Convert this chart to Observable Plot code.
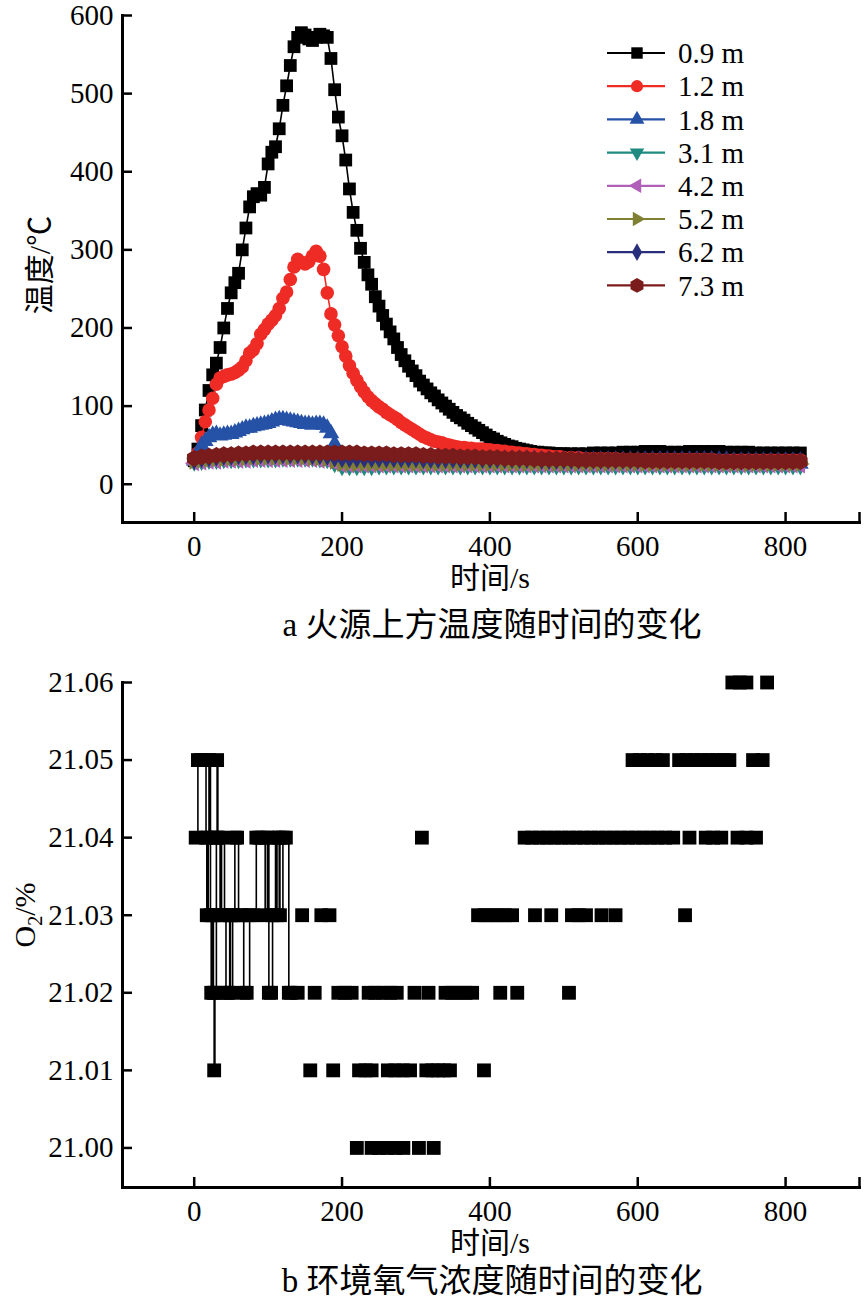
<!DOCTYPE html>
<html><head><meta charset="utf-8">
<script src="https://cdn.jsdelivr.net/npm/d3@7"></script>
<script src="https://cdn.jsdelivr.net/npm/@observablehq/plot@0.6"></script>
<style>
body{margin:0;background:#fff;}
#page{position:relative;width:865px;height:1303px;font-family:"Liberation Serif","Noto Sans CJK SC",serif;color:#000;overflow:hidden;}
.abs{position:absolute;white-space:nowrap;transform:translate(-50%,-50%);line-height:1;}
.rot{transform:translate(-50%,-50%) rotate(-90deg);}
</style></head><body><div id="page">
<div id="chartA" style="position:absolute;left:0;top:0"></div>
<div id="chartB" style="position:absolute;left:0;top:650px"></div>
<div id="legendA" style="position:absolute;left:600px;top:30px"></div>
<div class="abs rot" style="left:40px;top:265px;font-size:30px">温度/℃</div>
<div class="abs" style="left:490px;top:578px;font-size:30px">时间/s</div>
<div class="abs" style="left:492px;top:625px;font-size:33px">a 火源上方温度随时间的变化</div>
<div class="abs rot" style="left:27px;top:915px;font-size:30px">O<sub style="font-size:20px">2</sub>/%</div>
<div class="abs" style="left:490px;top:1243px;font-size:30px">时间/s</div>
<div class="abs" style="left:492px;top:1281px;font-size:33px">b 环境氧气浓度随时间的变化</div>
</div>
<script>
// ---------------- Chart a data ----------------
const seriesNames = ["0.9 m","1.2 m","1.8 m","3.1 m","4.2 m","5.2 m","6.2 m","7.3 m"];
const seriesColors = ["#000000","#ef2b26","#2552a6","#1e8a80","#b060b8","#808034","#2a2f7c","#7a1c1c"];

const tFine = [0,5,10,15,20,25,30,35,40,45,50,55,60,65,70,75,80,85,90,95,100,105,110,115,120,125,130,135,140,145,150,155,160,165,170,175,180,185,190,195,200,205,210,215,220,225,230,235,240,245,250,255,260,265,270,275,280,285,290,295,300,305,310,315,320,325,330,335,340,345,350,355,360,365,370,375,380,385,390,395,400,405,410,415,420,425,430,435,440,445,450,455,460,465,470,475,480,485,490,495,500,510,520,530,540,550,560,570,580,590,600,610,620,630,640,650,660,670,680,690,700,710,720,730,740,750,760,770,780,790,800,810,820];
const tCoarse = [0,10,20,30,40,50,60,70,80,90,100,110,120,130,140,150,160,170,180,190,200,210,220,230,240,250,260,270,280,290,300,310,320,330,340,350,360,370,380,390,400,410,420,430,440,450,460,470,480,490,500,510,520,530,540,550,560,570,580,590,600,610,620,630,640,650,660,670,680,690,700,710,720,730,740,750,760,770,780,790,800,810,820];

const temp09 = [30,45,75,95,120,140,155,175,200,225,
245,258,270,300,328,355,368,372,370,380,
410,425,432,455,485,510,536,560,572,578,
575,570,568,572,576,574,572,545,505,470,
446,415,378,348,325,302,284,268,256,240,
228,216,205,195,186,175,166,158,151,145,
139,132,127,122,117,113,108,104,100,96,
92,88,85,82,78,75,72,69,66,63,
60,58,55,53,51,49,48,46,45,44,
43,42,41,41,40,40,40,39,39,39,
39,
39,39,39,40,40,40,40,41,41,41,42,42,42,41,41,41,42,42,42,42,42,41,41,41,41,40,40,40,40,40,40,40];

const temp12 = [30,40,60,80,95,110,128,136,138,140,
141,143,146,150,158,168,172,180,192,198,
205,210,216,225,238,246,262,278,288,284,
282,285,292,298,292,275,245,218,204,190,
176,164,152,142,133,125,118,112,107,103,
99,96,92,89,86,83,79,76,73,70,
67,64,61,59,57,55,54,53,51,50,
49,48,47,47,46,46,45,45,45,44,
44,43,43,42,42,41,41,40,40,39,
39,38,38,37,37,36,36,35,35,35,
34,
34,34,33,33,33,33,33,32,32,32,32,32,32,32,32,32,32,32,32,32,31,31,31,31,31,31,31,31,31,31,31,31];

const temp18 = [30,40,50,55,60,63,64,62,63,64,
64,66,68,70,72,72,74,75,76,77,
78,80,82,83,83,82,81,80,79,78,
77,77,76,77,77,76,72,65,52,30,
26,26,26,25,25,25,25,25,25,25,
25,25,25,25,25,25,25,25,25,25,
25,25,26,26,26,26,26,26,26,26,
26,26,26,26,26,26,26,26,26,26,
26,26,26,26,26,26,26,26,26,26,
26,26,26,26,26,26,26,26,26,26,
26,
26,26,26,26,26,26,26,26,26,26,26,26,26,26,26,26,26,26,26,26,26,26,26,26,26,26,26,26,26,26,26,26];

const temp31 = [28,29,30,30,31,31,31,32,32,32,32,32,33,33,33,33,33,32,31,26,22,
22,22,22,22,23,23,23,23,23,23,23,23,23,23,23,23,23,23,23,23,23,23,23,23,23,23,23,23,23,23,23,23,23,23,23,23,23,23,23,23,23,23,23,23,23,23,23,23,23,23,23,23,23,23,23,23,23,23,23,23,23,23];
const temp42 = [27,28,29,29,30,30,30,30,31,31,31,31,31,31,31,31,31,30,30,27,24,
24,24,24,24,24,24,24,24,24,24,24,24,24,24,24,24,24,24,24,24,24,24,24,24,24,24,24,24,24,24,24,24,24,24,24,24,24,24,24,24,24,24,24,24,24,24,24,24,24,24,24,24,24,24,24,24,24,24,24,24,24,24];
const temp52 = [29,30,31,32,32,33,33,33,34,34,34,34,34,34,34,34,33,33,32,29,26,
26,26,26,26,26,26,26,26,26,26,26,26,26,26,26,26,26,26,26,26,26,26,26,26,26,26,26,26,26,26,26,26,26,26,26,26,26,26,26,26,26,26,26,26,26,26,26,26,26,26,26,26,26,26,26,26,26,26,26,26,26,26];
const temp62 = [31,33,34,35,36,36,37,37,37,38,38,38,38,38,38,38,37,37,36,34,33,
33,33,33,33,33,33,33,33,33,33,32,32,32,32,32,32,32,32,32,32,32,32,32,32,32,32,31,31,31,31,31,31,31,31,31,31,31,31,31,31,31,31,31,31,31,31,31,31,31,31,31,31,30,30,30,30,30,30,30,30,30,30];
const temp73 = [33,35,36,37,38,38,39,39,40,40,
40,40,40,40,40,40,40,40,40,40,
40,40,40,39,39,39,39,38,38,38,
38,37,37,36,36,36,35,35,35,34,
34,34,33,33,33,33,32,32,32,32,
32,32,31,31,31,31,31,31,31,31,
31,30,30,30,30,30,30,30,30,30,
30,29,29,29,29,29,29,29,29,29,
29,29,29];

const xTicks = [0,200,400,600,800];
const xTickMarks = [0,200,400,600,800,900];
const yTicksA = [0,100,200,300,400,500,600];

// ---------------- Chart b data ----------------
const o2EarlyT = [2,5,9,13,16,17,19,20,22,23,25,26,27,28,30,31,32,35,37,41,43,46,48,49,52,55,58,60,64,67,71,75,79,84,88,92,96,99,101,104,106,110,112,115,116,120,124,128,131];
const o2EarlyV = [21.04,21.05,21.05,21.05,21.04,21.03,21.04,21.05,21.03,21.02,21.03,21.02,21.01,21.02,21.04,21.05,21.04,21.03,21.04,21.03,21.02,21.02,21.03,21.02,21.03,21.04,21.04,21.03,21.03,21.02,21.02,21.03,21.03,21.04,21.04,21.04,21.03,21.04,21.02,21.02,21.03,21.04,21.03,21.04,21.03,21.04,21.04,21.02,21.02];

const o2LateT = [
 220,240,250,261,272,283,304,324,
 157,188,223,232,240,262,272,282,292,314,322,330,338,346,392,
 140,163,195,204,213,236,245,255,265,274,298,317,340,349,358,367,376,414,437,507,
 146,172,183,384,393,402,411,420,430,461,483,511,520,530,551,570,664,
 308,447,457,467,477,487,497,507,517,527,537,547,557,567,577,587,597,607,617,627,637,648,670,692,702,713,735,747,760,
 593,603,613,624,634,656,666,676,686,696,706,716,724,756,769,
 728,738,747,775];
const o2LateV = [
 21.00,21.00,21.00,21.00,21.00,21.00,21.00,21.00,
 21.01,21.01,21.01,21.01,21.01,21.01,21.01,21.01,21.01,21.01,21.01,21.01,21.01,21.01,21.01,
 21.02,21.02,21.02,21.02,21.02,21.02,21.02,21.02,21.02,21.02,21.02,21.02,21.02,21.02,21.02,21.02,21.02,21.02,21.02,21.02,
 21.03,21.03,21.03,21.03,21.03,21.03,21.03,21.03,21.03,21.03,21.03,21.03,21.03,21.03,21.03,21.03,21.03,
 21.04,21.04,21.04,21.04,21.04,21.04,21.04,21.04,21.04,21.04,21.04,21.04,21.04,21.04,21.04,21.04,21.04,21.04,21.04,21.04,21.04,21.04,21.04,21.04,21.04,21.04,21.04,21.04,21.04,
 21.05,21.05,21.05,21.05,21.05,21.05,21.05,21.05,21.05,21.05,21.05,21.05,21.05,21.05,21.05,
 21.06,21.06,21.06,21.06];
const yTicksB = [21.00,21.01,21.02,21.03,21.04,21.05,21.06];

// ---------------- symbols ----------------
function triSym(angle){
  return {draw(ctx, size){
    const y = -Math.sqrt(size/(Math.sqrt(3)*3));
    const pts=[[0,2*y],[-Math.sqrt(3)*y,-y],[Math.sqrt(3)*y,-y]];
    const c=Math.cos(angle), s=Math.sin(angle);
    pts.forEach(([px,py],i)=>{const X=px*c-py*s, Y=px*s+py*c; i?ctx.lineTo(X,Y):ctx.moveTo(X,Y);});
    ctx.closePath();
  }};
}
const hexSym = {draw(ctx,size){
  const r = Math.sqrt(size/(3*Math.sqrt(3)/2));
  for(let k=0;k<6;k++){const a=Math.PI/6+k*Math.PI/3; const X=r*Math.cos(a),Y=r*Math.sin(a); k?ctx.lineTo(X,Y):ctx.moveTo(X,Y);}
  ctx.closePath();
}};
const symbolsA = [d3.symbolSquare, d3.symbolCircle, triSym(0), triSym(Math.PI), triSym(-Math.PI/2), triSym(Math.PI/2), d3.symbolDiamond, hexSym];
const radiiA = [7.2, 6.8, 6.2, 6, 6, 6, 6, 7.6];

function zip(ts, vs){ const n=Math.min(ts.length, vs.length); const out=[]; for(let i=0;i<n;i++) out.push({t:ts[i], v:vs[i]}); return out; }
const dataA = [zip(tFine,temp09), zip(tFine,temp12), zip(tFine,temp18), zip(tCoarse,temp31), zip(tCoarse,temp42), zip(tCoarse,temp52), zip(tCoarse,temp62), zip(tCoarse,temp73)];

// ---------------- Chart a ----------------
const W = 865;
const HA = 600, mtA = 15, mbA = 78, mlA = 122, mrA = 6;
const innerHA = HA - mtA - mbA, innerW = W - mlA - mrA;
const marksA = [];
dataA.forEach((d,i)=>{
  marksA.push(Plot.line(d, {x:"t", y:"v", stroke: seriesColors[i], strokeWidth: 1.6}));
  marksA.push(Plot.dot(d, {x:"t", y:"v", symbol: symbolsA[i], r: radiiA[i], fill: seriesColors[i], stroke: "none"}));
});
marksA.push(
  Plot.tickX(xTickMarks, {x: d=>d, insetTop: innerHA - 10, stroke:"#000", strokeWidth: 2.5}),
  Plot.tickY(yTicksA, {y: d=>d, insetRight: innerW - 10, stroke:"#000", strokeWidth: 2.5}),
  Plot.frame({anchor:"left", strokeWidth: 3}),
  Plot.frame({anchor:"bottom", strokeWidth: 3}),
  Plot.axisX(xTicks, {tickSize: 0, tickPadding: 13, label: null}),
  Plot.axisY(yTicksA, {tickSize: 0, tickPadding: 9, label: null})
);
const chartA = Plot.plot({
  width: W, height: HA, marginTop: mtA, marginBottom: mbA, marginLeft: mlA, marginRight: mrA,
  x: {domain: [-97, 900]},
  y: {domain: [-49, 600]},
  style: {fontFamily: "'Liberation Serif', serif", fontSize: "29px", color: "#000", background: "transparent", overflow: "visible"},
  marks: marksA
});
document.getElementById("chartA").appendChild(chartA);

// legend
(function(){
  const svg = d3.select("#legendA").append("svg").attr("width", 200).attr("height", 290);
  seriesNames.forEach((name,i)=>{
    const y = 23 + i*33.2;
    const g = svg.append("g").attr("transform", `translate(0,${y})`);
    g.append("line").attr("x1",7).attr("x2",65).attr("y1",0).attr("y2",0).attr("stroke",seriesColors[i]).attr("stroke-width",2.2);
    g.append("path").attr("transform","translate(37,0)").attr("d", d3.symbol().type(symbolsA[i]).size(Math.PI*radiiA[i]*radiiA[i]*0.8)()).attr("fill",seriesColors[i]);
    g.append("text").attr("x",78).attr("y",0).attr("dy","0.35em").attr("font-family","'Liberation Serif', serif").attr("font-size",29).text(name);
  });
})();

// ---------------- Chart b ----------------
const HB = 580, mtB = 32, mbB = 43;
const innerHB = HB - mtB - mbB;
const early = zip(o2EarlyT, o2EarlyV);
const late = zip(o2LateT, o2LateV);
const chartB = Plot.plot({
  width: W, height: HB, marginTop: mtB, marginBottom: mbB, marginLeft: mlA, marginRight: mrA,
  x: {domain: [-97, 900]},
  y: {domain: [20.9949, 21.06]},
  style: {fontFamily: "'Liberation Serif', serif", fontSize: "29px", color: "#000", background: "transparent", overflow: "visible"},
  marks: [
    Plot.line(early, {x:"t", y:"v", stroke:"#000", strokeWidth: 1.6, curve: "step-after"}),
    Plot.dot(early.concat(late), {x:"t", y:"v", symbol: d3.symbolSquare, r: 7.8, fill:"#000", stroke:"none"}),
    Plot.tickX(xTickMarks, {x: d=>d, insetTop: innerHB - 10, stroke:"#000", strokeWidth: 2.5}),
    Plot.tickY(yTicksB, {y: d=>d, insetRight: innerW - 10, stroke:"#000", strokeWidth: 2.5}),
    Plot.frame({anchor:"left", strokeWidth: 3}),
    Plot.frame({anchor:"bottom", strokeWidth: 3}),
    Plot.axisX(xTicks, {tickSize: 0, tickPadding: 13, label: null}),
    Plot.axisY(yTicksB, {tickSize: 0, tickPadding: 9, label: null, tickFormat: d3.format(".2f")})
  ]
});
document.getElementById("chartB").appendChild(chartB);
</script>
</body></html>
